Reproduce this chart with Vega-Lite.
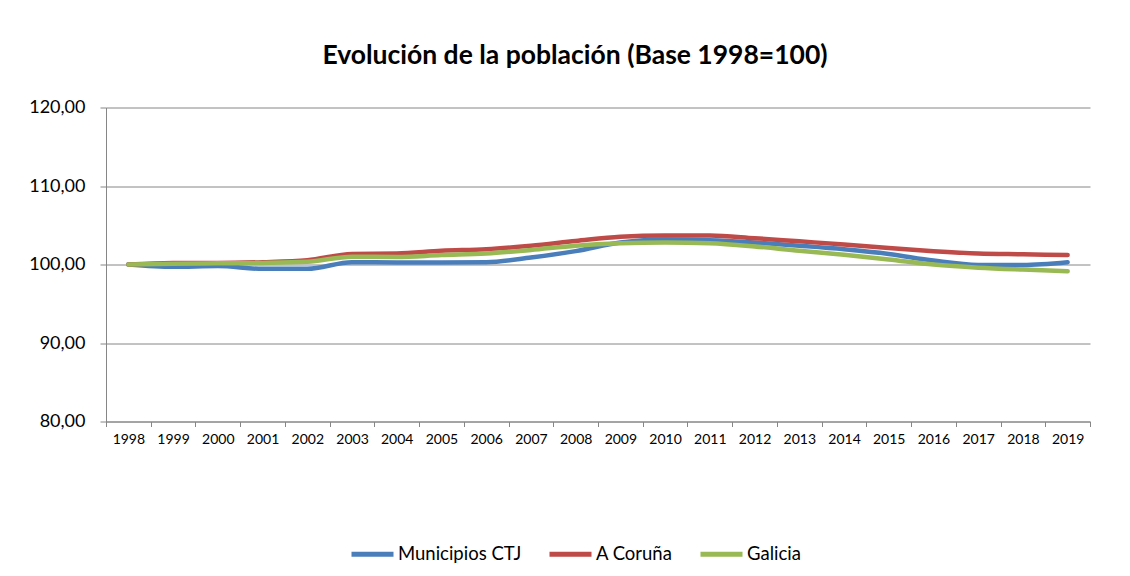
{
  "$schema": "https://vega.github.io/schema/vega-lite/v6.json",
  "autosize": "none",
  "width": 984,
  "height": 314,
  "padding": {"left": 106, "top": 107.5, "right": 40, "bottom": 154.5},
  "background": "white",
  "config": {
    "locale": {"number": {"decimal": ",", "thousands": ".", "grouping": [3], "currency": ["", " €"]}},
    "view": {"stroke": null},
    "font": "Lato"
  },
  "title": {
    "text": "Evolución de la población (Base 1998=100)",
    "font": "Lato",
    "fontSize": 26.5,
    "fontWeight": "bold",
    "color": "#000000",
    "anchor": "middle",
    "dx": -23,
    "offset": 29
  },
  "data": {
    "values": [
      {"year": "1998", "serie": "Municipios CTJ", "v": 100.0},
      {"year": "1999", "serie": "Municipios CTJ", "v": 99.7},
      {"year": "2000", "serie": "Municipios CTJ", "v": 99.8},
      {"year": "2001", "serie": "Municipios CTJ", "v": 99.45},
      {"year": "2002", "serie": "Municipios CTJ", "v": 99.45},
      {"year": "2003", "serie": "Municipios CTJ", "v": 100.3},
      {"year": "2004", "serie": "Municipios CTJ", "v": 100.25},
      {"year": "2005", "serie": "Municipios CTJ", "v": 100.25},
      {"year": "2006", "serie": "Municipios CTJ", "v": 100.3},
      {"year": "2007", "serie": "Municipios CTJ", "v": 100.9},
      {"year": "2008", "serie": "Municipios CTJ", "v": 101.7},
      {"year": "2009", "serie": "Municipios CTJ", "v": 102.8},
      {"year": "2010", "serie": "Municipios CTJ", "v": 103.2},
      {"year": "2011", "serie": "Municipios CTJ", "v": 103.1},
      {"year": "2012", "serie": "Municipios CTJ", "v": 102.8},
      {"year": "2013", "serie": "Municipios CTJ", "v": 102.4},
      {"year": "2014", "serie": "Municipios CTJ", "v": 101.95},
      {"year": "2015", "serie": "Municipios CTJ", "v": 101.35},
      {"year": "2016", "serie": "Municipios CTJ", "v": 100.5},
      {"year": "2017", "serie": "Municipios CTJ", "v": 99.95},
      {"year": "2018", "serie": "Municipios CTJ", "v": 99.95},
      {"year": "2019", "serie": "Municipios CTJ", "v": 100.3},
      {"year": "1998", "serie": "A Coruña", "v": 100.0},
      {"year": "1999", "serie": "A Coruña", "v": 100.2},
      {"year": "2000", "serie": "A Coruña", "v": 100.2},
      {"year": "2001", "serie": "A Coruña", "v": 100.3},
      {"year": "2002", "serie": "A Coruña", "v": 100.55},
      {"year": "2003", "serie": "A Coruña", "v": 101.35},
      {"year": "2004", "serie": "A Coruña", "v": 101.4},
      {"year": "2005", "serie": "A Coruña", "v": 101.75},
      {"year": "2006", "serie": "A Coruña", "v": 101.95},
      {"year": "2007", "serie": "A Coruña", "v": 102.4},
      {"year": "2008", "serie": "A Coruña", "v": 103.0},
      {"year": "2009", "serie": "A Coruña", "v": 103.55},
      {"year": "2010", "serie": "A Coruña", "v": 103.7},
      {"year": "2011", "serie": "A Coruña", "v": 103.7},
      {"year": "2012", "serie": "A Coruña", "v": 103.35},
      {"year": "2013", "serie": "A Coruña", "v": 102.95},
      {"year": "2014", "serie": "A Coruña", "v": 102.55},
      {"year": "2015", "serie": "A Coruña", "v": 102.1},
      {"year": "2016", "serie": "A Coruña", "v": 101.7},
      {"year": "2017", "serie": "A Coruña", "v": 101.4},
      {"year": "2018", "serie": "A Coruña", "v": 101.3},
      {"year": "2019", "serie": "A Coruña", "v": 101.2},
      {"year": "1998", "serie": "Galicia", "v": 100.0},
      {"year": "1999", "serie": "Galicia", "v": 100.1},
      {"year": "2000", "serie": "Galicia", "v": 100.15},
      {"year": "2001", "serie": "Galicia", "v": 100.2},
      {"year": "2002", "serie": "Galicia", "v": 100.35},
      {"year": "2003", "serie": "Galicia", "v": 101.0},
      {"year": "2004", "serie": "Galicia", "v": 100.95},
      {"year": "2005", "serie": "Galicia", "v": 101.2},
      {"year": "2006", "serie": "Galicia", "v": 101.4},
      {"year": "2007", "serie": "Galicia", "v": 101.85},
      {"year": "2008", "serie": "Galicia", "v": 102.4},
      {"year": "2009", "serie": "Galicia", "v": 102.7},
      {"year": "2010", "serie": "Galicia", "v": 102.8},
      {"year": "2011", "serie": "Galicia", "v": 102.7},
      {"year": "2012", "serie": "Galicia", "v": 102.3},
      {"year": "2013", "serie": "Galicia", "v": 101.75},
      {"year": "2014", "serie": "Galicia", "v": 101.25},
      {"year": "2015", "serie": "Galicia", "v": 100.65},
      {"year": "2016", "serie": "Galicia", "v": 100.0},
      {"year": "2017", "serie": "Galicia", "v": 99.6},
      {"year": "2018", "serie": "Galicia", "v": 99.35},
      {"year": "2019", "serie": "Galicia", "v": 99.15}
    ]
  },
  "mark": {"type": "line", "strokeWidth": 4.5, "strokeCap": "round", "strokeJoin": "round", "interpolate": "monotone"},
  "encoding": {
    "x": {
      "field": "year",
      "type": "ordinal",
      "scale": {"paddingInner": 0, "paddingOuter": 0},
      "axis": {
        "title": null,
        "labelAngle": 0,
        "labelFont": "Lato",
        "labelFontSize": 14,
        "labelColor": "#000000",
        "labelPadding": 6,
        "tickBand": "extent",
        "tickSize": 5,
        "tickColor": "#868686",
        "domainColor": "#868686",
        "grid": false
      }
    },
    "y": {
      "field": "v",
      "type": "quantitative",
      "scale": {"domain": [80, 120], "nice": false, "zero": false},
      "axis": {
        "title": null,
        "values": [80, 90, 100, 110, 120],
        "format": ".2f",
        "labelFont": "Lato",
        "labelFontSize": 18,
        "labelColor": "#000000",
        "labelPadding": 15,
        "tickSize": 6,
        "tickColor": "#868686",
        "domainColor": "#868686",
        "gridColor": "#868686",
        "grid": true
      }
    },
    "color": {
      "field": "serie",
      "type": "nominal",
      "scale": {
        "domain": ["Municipios CTJ", "A Coruña", "Galicia"],
        "range": ["#4a7ebb", "#be4b48", "#98b954"]
      },
      "sort": ["Municipios CTJ", "A Coruña", "Galicia"],
      "legend": {
        "title": null,
        "orient": "none",
        "direction": "horizontal",
        "legendX": 243,
        "legendY": 423,
        "symbolType": "stroke",
        "symbolSize": 1764,
        "symbolStrokeWidth": 5,
        "labelFont": "Lato",
        "labelFontSize": 18.5,
        "labelColor": "#000000",
        "labelOffset": 2,
        "columnPadding": 17
      }
    }
  }
}
